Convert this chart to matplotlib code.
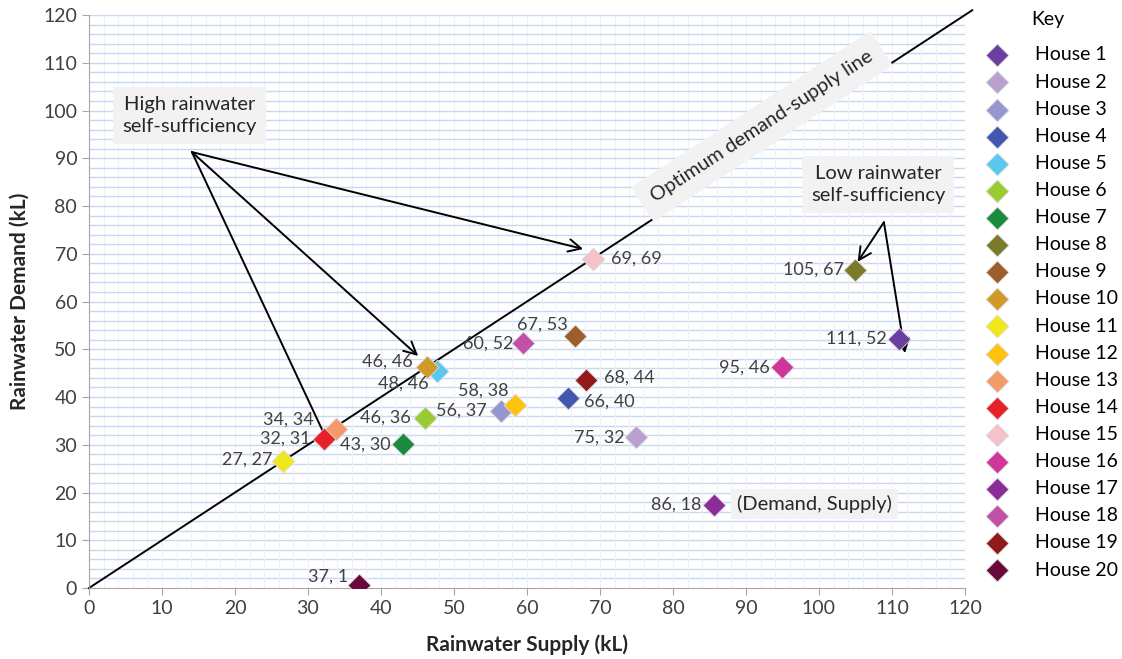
import numpy as np
import matplotlib
matplotlib.use("Agg")
import matplotlib.pyplot as plt

plt.rcParams['font.family'] = ['Lato', 'DejaVu Sans']

# data (supply, demand)
houses = ["House %d" % i for i in range(1, 21)]
supply = [111, 75, 56, 66, 48, 46, 43, 105, 67, 46, 27, 58, 34, 32, 69, 95, 86, 60, 68, 37]
demand = [52, 32, 37, 40, 46, 36, 30, 67, 53, 46, 27, 38, 34, 31, 69, 46, 18, 52, 44, 1]
# plotted positions (slightly off the rounded labels, as in the source)
x_pos = [111, 74.9, 56.4, 65.6, 47.7, 46, 43, 105, 66.6, 46.3, 26.6, 58.4, 33.8, 32.2, 69, 95, 85.6, 59.5, 68.1, 37]
y_pos = [52.2, 31.6, 37.1, 39.9, 45.4, 35.6, 30.1, 66.7, 52.8, 46.2, 26.5, 38.4, 33.3, 31.3, 68.9, 46.2, 17.4, 51.4, 43.5, 0.6]
colors = ["#6B3FA0", "#B9A0CF", "#9696D0", "#4457B0", "#5BC8F0", "#99CC33", "#1A8A3E",
          "#7A7A2A", "#9C5E2A", "#D09A28", "#F0E81A", "#FFC20E", "#F49A6A", "#E8202A",
          "#F4C2C8", "#D0359A", "#8E2B9A", "#C050A8", "#921A1A", "#6A0A3A"]
# label offsets in points
offsets = [(-9, 0), (-8, 0), (-10, 0), (12, -3), (-6, -9), (-10, 0), (-9, 0), (-8, 0),
           (-5, 8), (-10, 4), (-8, 1), (-5, 10), (-16, 7), (-10, 0), (13, 0), (-9, 0),
           (-9, 0), (-7, -1), (13, 2), (-8, 6)]

fig = plt.figure(figsize=(11.22, 6.59), dpi=100)
ax = fig.add_axes([0.0793, 0.1077, 0.7807, 0.8695])

ax.set_xlim(0, 120)
ax.set_ylim(0, 120)
ax.set_xticks(np.arange(0, 121, 10))
ax.set_yticks(np.arange(0, 121, 10))
for v in np.arange(2, 121, 2):
    ax.axhline(v, color="#C6D9F0", lw=1.0, zorder=0)
    ax.axvline(v, color="#EEF2F8", lw=0.8, zorder=0)

for s in ["top", "right"]:
    ax.spines[s].set_visible(False)
for s in ["left", "bottom"]:
    ax.spines[s].set_color("#A6A6A6")
ax.tick_params(direction="out", length=5, color="#A6A6A6", labelsize=14, labelcolor="#404040")

ax.plot([0, 121], [0, 121], color="black", lw=1.4, zorder=2, clip_on=False)

for i in range(20):
    ax.scatter(x_pos[i], y_pos[i], marker="D", s=135, color=colors[i],
               edgecolors="#DDDDDD", linewidths=0.6, zorder=4, label=houses[i])
    dx, dy = offsets[i]
    ax.annotate("%d, %d" % (supply[i], demand[i]), (x_pos[i], y_pos[i]),
                xytext=(dx, dy), textcoords="offset points",
                ha="right" if dx < 0 else "left", va="center",
                fontsize=13, color="#404040", zorder=5)

box = dict(boxstyle="square,pad=0.45", fc="#F2F2F2", ec="none")
ax.text(13.8, 99, "High rainwater\nself-sufficiency", ha="center", va="center",
        fontsize=14.5, color="#262626", bbox=box, linespacing=1.35)
ax.text(108.1, 84.5, "Low rainwater\nself-sufficiency", ha="center", va="center",
        fontsize=14.5, color="#262626", bbox=box, linespacing=1.35)
ax.text(92.2, 96.7, "Optimum demand-supply line", ha="center", va="center",
        fontsize=14.5, color="#262626", rotation=33.2, rotation_mode="anchor",
        bbox=dict(boxstyle="square,pad=0.6", fc="#F2F2F2", ec="none"))
ax.text(99.4, 17.6, "(Demand, Supply)", ha="center", va="center",
        fontsize=14.5, color="#262626", bbox=dict(boxstyle="square,pad=0.3", fc="#F2F2F2", ec="none"))

arrow = dict(arrowstyle="->,head_length=0.9,head_width=0.45", color="black", lw=1.4,
             shrinkA=0, shrinkB=0)
for tx, ty in [(67.7, 71.0), (45.1, 48.6), (33.0, 29.7)]:
    ax.annotate("", xy=(tx, ty), xytext=(14.1, 91.3), arrowprops=arrow, zorder=3)
for tx, ty in [(105.3, 68.3), (111.8, 49.2)]:
    ax.annotate("", xy=(tx, ty), xytext=(108.9, 76.6), arrowprops=arrow, zorder=3)

ax.set_xlabel("Rainwater Supply (kL)", fontsize=15, fontweight="bold", color="#262626", labelpad=13)
ax.set_ylabel("Rainwater Demand (kL)", fontsize=15, fontweight="bold", color="#262626", labelpad=10)

leg = ax.legend(loc="upper left", bbox_to_anchor=(1.005, 1.02), frameon=False,
                title="Key", fontsize=14, title_fontsize=14, labelspacing=0.52,
                handletextpad=1.0, borderaxespad=0)
leg._legend_box.sep = 13

fig.savefig("out.png", dpi=100)
